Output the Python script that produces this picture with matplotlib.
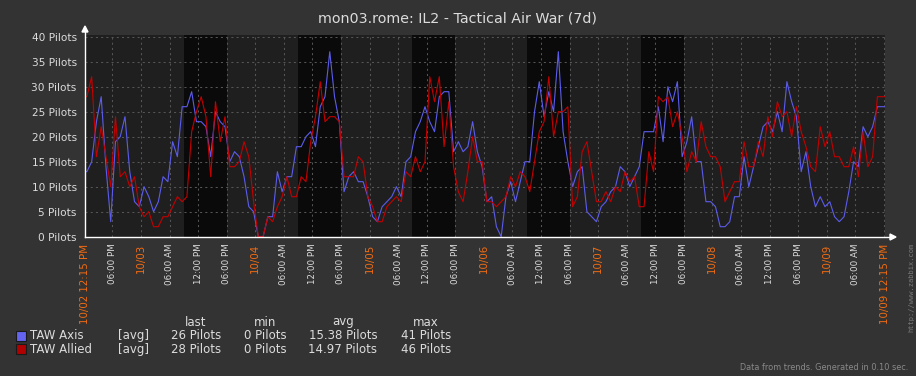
import numpy as np
import matplotlib
matplotlib.use("Agg")
import matplotlib.pyplot as plt
import matplotlib.transforms as mtransforms
from matplotlib.lines import Line2D
from matplotlib.patches import Polygon, Rectangle
from datetime import datetime, timedelta

title = "mon03.rome: IL2 - Tactical Air War (7d)"
start = datetime(2013, 10, 2, 12, 15)
span_h = 168  # 7 days

# hourly trend values (avg)
axis_vals = [13, 15, 23, 28, 14, 3, 19, 20, 24, 13, 7, 6, 10, 8, 5, 7, 12, 11, 19, 16, 26, 26, 29, 23,
             23, 22, 16, 25, 23, 22, 15, 17, 16, 12, 6, 5, 0, 0, 4, 4, 13, 9, 12, 12, 18, 18, 20, 21,
             18, 26, 28, 37, 28, 23, 9, 12, 13, 11, 11, 8, 4, 3, 6, 7, 8, 10, 8, 15, 16, 21, 23, 26,
             23, 21, 28, 29, 29, 17, 19, 17, 18, 23, 17, 14, 7, 8, 2, 0, 8, 11, 7, 11, 15, 15, 25, 31,
             24, 29, 25, 37, 21, 15, 10, 13, 14, 5, 4, 3, 6, 7, 9, 10, 14, 13, 10, 12, 14, 21, 21, 21,
             26, 19, 30, 27, 31, 16, 19, 24, 15, 15, 7, 7, 6, 2, 2, 3, 8, 8, 16, 10, 14, 18, 22, 23,
             21, 25, 21, 31, 27, 24, 13, 17, 10, 6, 8, 6, 7, 4, 3, 4, 9, 15, 14, 22, 20, 22, 26]
allied_vals = [28, 32, 16, 22, 16, 10, 24, 12, 13, 10, 12, 6, 4, 5, 2, 2, 4, 4, 6, 8, 7, 8, 21, 25,
               28, 24, 12, 27, 19, 24, 14, 14, 15, 19, 16, 7, 0, 0, 4, 3, 6, 8, 12, 8, 8, 12, 11, 19,
               24, 31, 23, 24, 24, 23, 12, 12, 12, 16, 15, 8, 6, 3, 3, 6, 7, 8, 7, 13, 12, 16, 13, 15,
               32, 27, 32, 18, 27, 14, 9, 7, 13, 20, 15, 15, 7, 7, 6, 7, 8, 12, 10, 13, 12, 9, 15, 21,
               23, 32, 20, 25, 25, 26, 6, 8, 17, 19, 13, 7, 7, 9, 7, 10, 9, 13, 11, 12, 6, 6, 17, 13,
               28, 27, 28, 22, 25, 20, 13, 17, 15, 23, 18, 16, 16, 14, 7, 9, 11, 11, 19, 14, 14, 19, 16, 24,
               20, 27, 24, 25, 20, 26, 21, 18, 14, 13, 22, 18, 21, 16, 16, 14, 14, 18, 12, 21, 14, 16, 28]

series_names = ["TAW Axis", "TAW Allied"]
stat_last = ["26 Pilots", "28 Pilots"]
stat_min = ["0 Pilots", "0 Pilots"]
stat_avg = ["15.38 Pilots", "14.97 Pilots"]
stat_max = ["41 Pilots", "46 Pilots"]
y_ticks = [0, 5, 10, 15, 20, 25, 30, 35, 40]
work_days = [3, 4, 5, 6, 7]  # shaded 09:00-18:00

line_colors = ["#5c5cec", "#c40000"]
box_colors = ["#6464f0", "#b00000"]
bg = "#333333"
txt = "#dcdcdc"
orange = "#f26c12"

W, H = 916, 376
fig = plt.figure(figsize=(W / 100, H / 100), dpi=100, facecolor=bg)
def fx(px):
    return px / W
def fy(py):
    return 1 - py / H

y0, ppu = 236.7, 5.0  # pixel of 0 pilots, pixels per pilot
ytop = 40.3
ax = fig.add_axes([fx(85), fy(y0), 800 / W, ytop * ppu / H])
ax.set_facecolor("#1f1f1f")
ax.set_xlim(0, span_h)
ax.set_ylim(0, ytop)
for s in ax.spines.values():
    s.set_visible(False)

def hours(dt):
    return (dt - start).total_seconds() / 3600

for d in work_days:
    ax.axvspan(hours(datetime(2013, 10, d, 9, 0)), hours(datetime(2013, 10, d, 18, 0)),
               color="#0a0a0a", lw=0, zorder=0)

# grid
grid_t = []
t = datetime(2013, 10, 2, 18, 0)
while hours(t) < span_h:
    grid_t.append(t)
    t += timedelta(hours=6)
for g in grid_t:
    ax.axvline(hours(g), color="#555555", lw=0.75, ls=(0, (2, 3)), zorder=1)
for v in y_ticks[1:]:
    ax.axhline(v, color="#555555", lw=0.75, ls=(0, (2, 3)), zorder=1)

# data
for vals, c in zip([axis_vals, allied_vals], line_colors):
    tt = np.arange(len(vals)) + 0.4
    tt = np.r_[0, tt, span_h]
    vv = np.r_[vals[0], vals, vals[-1]]
    ax.plot(tt, vv, color=c, lw=0.8, zorder=3)

# y labels
ax.set_yticks(y_ticks)
ax.set_yticklabels(["%d Pilots" % v for v in y_ticks])
ax.set_xticks([])
ax.tick_params(axis="y", length=0, pad=6, labelsize=7.6, labelcolor=txt)

# axis lines with arrows
fig.add_artist(Line2D([fx(85), fx(85)], [fy(237), fy(31)], color="white", lw=1))
fig.add_artist(Polygon([[fx(82), fy(32)], [fx(88), fy(32)], [fx(85), fy(26)]],
                       closed=True, color="white", transform=fig.transFigure))
fig.add_artist(Line2D([fx(85), fx(891)], [fy(237), fy(237)], color="white", lw=1))
fig.add_artist(Polygon([[fx(890), fy(234)], [fx(890), fy(240)], [fx(896), fy(237)]],
                       closed=True, color="white", transform=fig.transFigure))

# x labels
trans = mtransforms.blended_transform_factory(ax.transData, fig.transFigure)
ly = fy(243.5)
for g in grid_t:
    h = hours(g)
    if span_h - h < 2:
        continue
    if g.hour == 0:
        ax.text(h, ly, g.strftime("%m/%d"), transform=trans, rotation=90, ha="center",
                va="top", fontsize=7.4, color=orange, clip_on=False)
    else:
        ax.text(h, ly, g.strftime("%I:%M %p"), transform=trans, rotation=90, ha="center",
                va="top", fontsize=6.3, color=txt, clip_on=False)
for h, dt in [(0, start), (span_h, start + timedelta(hours=span_h))]:
    ax.text(h, ly, dt.strftime("%m/%d %I:%M %p"), transform=trans, rotation=90, ha="center",
            va="top", fontsize=7.4, color=orange, clip_on=False)

# title
fig.text(0.5, fy(18), title, ha="center", va="center", fontsize=10.3, color=txt)

# legend table
cols = [195.7, 265, 343, 426]
for cx, name in zip(cols, ["last", "min", "avg", "max"]):
    fig.text(fx(cx), fy(322), name, ha="center", va="center", fontsize=8.5, color=txt)
for i, name in enumerate(series_names):
    ry = 335.7 + i * 13.5
    fig.add_artist(Rectangle((fx(15.5), fy(ry + 5)), 10 / W, 10 / H, transform=fig.transFigure,
                             facecolor=box_colors[i], edgecolor="#1a1a1a", lw=0.8))
    fig.text(fx(30.5), fy(ry), name, ha="left", va="center", fontsize=8.5, color=txt)
    fig.text(fx(118), fy(ry), "[avg]", ha="left", va="center", fontsize=8.5, color=txt)
    for cx, val in zip(cols, [stat_last[i], stat_min[i], stat_avg[i], stat_max[i]]):
        fig.text(fx(cx), fy(ry), val, ha="center", va="center", fontsize=8.5, color=txt)

fig.text(fx(911), fy(243), "http://www.zabbix.com", rotation=90, ha="center", va="top",
         fontsize=5.0, color="#7a7a7a", family="DejaVu Sans Mono")
fig.text(fx(908), fy(368), "Data from trends. Generated in 0.10 sec.", ha="right", va="center",
         fontsize=5.9, color="#8a8a8a")

fig.savefig("out.png", dpi=100, facecolor=bg)
